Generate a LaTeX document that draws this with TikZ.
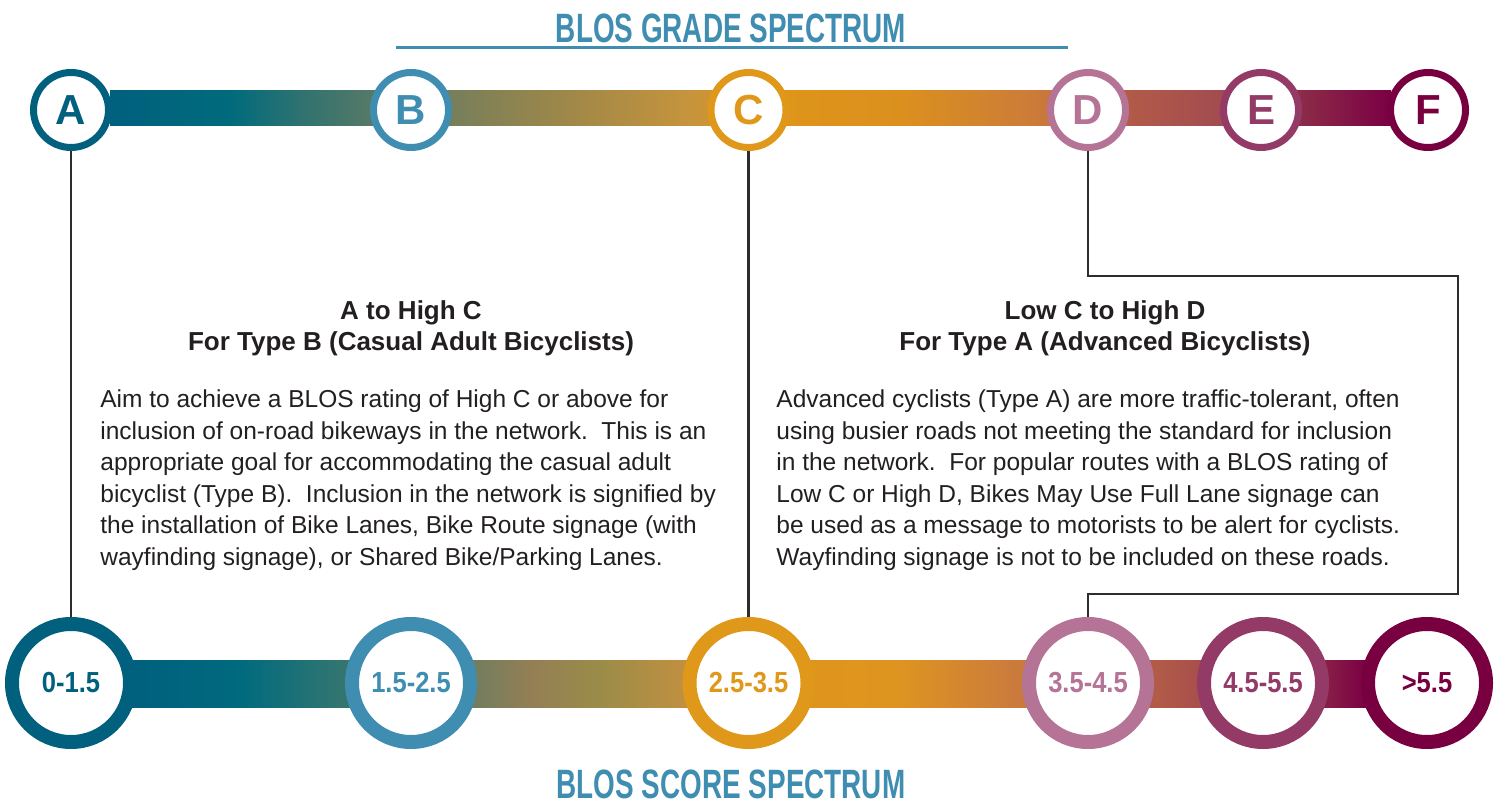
\documentclass[tikz,border=0pt]{standalone}
\usepackage{fontspec}
\setmainfont{Liberation Sans}
\newfontfamily\titlefont[FakeStretch=0.68]{Liberation Sans}
\newfontfamily\scorefont[FakeStretch=0.88]{Liberation Sans}
\definecolor{cA}{HTML}{02607F}
\definecolor{cB}{HTML}{3F8DB0}
\definecolor{cC}{HTML}{E0981A}
\definecolor{cD}{HTML}{B57495}
\definecolor{cE}{HTML}{933A67}
\definecolor{cF}{HTML}{780041}
\definecolor{ttl}{HTML}{3F8DB0}
\definecolor{txt}{HTML}{231F20}
\definecolor{lnk}{HTML}{2D2D2D}
% top bar stops
\definecolor{t0}{HTML}{00607E}\definecolor{t1}{HTML}{006B7C}\definecolor{t2}{HTML}{2F7270}
\definecolor{t3}{HTML}{5A7A66}\definecolor{t4}{HTML}{7E8058}\definecolor{t5}{HTML}{A08848}
\definecolor{t6}{HTML}{C6943C}\definecolor{t7}{HTML}{DF9618}\definecolor{t8}{HTML}{DB901E}
\definecolor{t9}{HTML}{CD7C38}\definecolor{t10}{HTML}{B25A48}\definecolor{t11}{HTML}{A24C50}
\definecolor{t12}{HTML}{8C2C48}\definecolor{t13}{HTML}{7A0044}
% bottom bar stops
\definecolor{b0}{HTML}{00607E}\definecolor{b1}{HTML}{006A7E}\definecolor{b2}{HTML}{2E7472}
\definecolor{b3}{HTML}{5E7C64}\definecolor{b4}{HTML}{947F55}\definecolor{b5}{HTML}{9A8C48}
\definecolor{b6}{HTML}{C49040}\definecolor{b7}{HTML}{E0961A}\definecolor{b8}{HTML}{DE9420}
\definecolor{b9}{HTML}{CB7C3C}\definecolor{b10}{HTML}{B05A48}\definecolor{b11}{HTML}{A64C4C}
\definecolor{b12}{HTML}{8E2A48}\definecolor{b13}{HTML}{7A0044}
\tikzset{
  grade/.style={circle, draw=#1, fill=white, line width=3.5pt, minimum size=37.5pt, inner sep=0pt,
    text=#1, font=\fontsize{21}{21}\selectfont\bfseries},
  score/.style={circle, draw=#1, fill=white, line width=7pt, minimum size=59pt, inner sep=0pt,
    text=#1, font=\scorefont\fontsize{14.5}{14.5}\selectfont\bfseries},
  spectitle/.style={text=ttl, font=\titlefont\fontsize{20.5}{20.5}\selectfont\bfseries, inner sep=0pt},
  head/.style={text=txt, font=\fontsize{13}{13}\selectfont\bfseries, inner sep=0pt, anchor=base},
  body/.style={text=txt, font=\fontsize{12.25}{12.25}\selectfont, inner sep=0pt, anchor=base west},
  link/.style={draw=lnk, line width=1.25pt},
}
\begin{document}
\begin{tikzpicture}[x=0.5pt, y=-0.5pt]
\useasboundingbox (0,0) rectangle (1502,806);
% titles
\node[spectitle, anchor=base] (gt) at (731,43) {BLOS GRADE SPECTRUM};
\draw[ttl, line width=1.5pt] (396,47.5) -- (1068,47.5);
\node[spectitle, anchor=base] (st) at (731,798) {BLOS SCORE SPECTRUM};
% top bar
\foreach \xa/\ca/\xb/\cb in {110/t0/230/t1, 230/t1/300/t2, 300/t2/380/t3, 380/t3/470/t4, 470/t4/570/t5,
  570/t5/690/t6, 690/t6/760/t7, 760/t7/900/t8, 900/t8/1030/t9, 1030/t9/1130/t10, 1130/t10/1220/t11,
  1220/t11/1300/t12, 1300/t12/1390/t13}
  \shade[left color=\ca, right color=\cb] (\xa,91) rectangle (\xb+1,126);
% bottom bar
\foreach \xa/\ca/\xb/\cb in {130/b0/240/b1, 240/b1/330/b2, 330/b2/440/b3, 440/b3/530/b4, 530/b4/600/b5,
  600/b5/690/b6, 690/b6/760/b7, 760/b7/900/b8, 900/b8/1010/b9, 1010/b9/1160/b10, 1160/b10/1210/b11,
  1210/b11/1310/b12, 1310/b12/1365/b13}
  \shade[left color=\ca, right color=\cb] (\xa,660) rectangle (\xb+1,707);
% grade circles
\node[grade=cA] (gA) at (71,110) {A};
\node[grade=cB] (gB) at (411,110) {B};
\node[grade=cC] (gC) at (748.5,110) {C};
\node[grade=cD] (gD) at (1088,110) {D};
\node[grade=cE] (gE) at (1261,110) {E};
\node[grade=cF] (gF) at (1428,110) {F};
% score circles
\node[score=cA] (sA) at (71,683) {0-1.5};
\node[score=cB] (sB) at (411,683) {1.5-2.5};
\node[score=cC] (sC) at (748.5,683) {2.5-3.5};
\node[score=cD] (sD) at (1088,683) {3.5-4.5};
\node[score=cE] (sE) at (1263,683) {4.5-5.5};
\node[score=cF] (sF) at (1427,683) {>5.5};
% connectors
\draw[link] (gA.south) -- (sA.north);
\draw[link] (gC.south) -- (sC.north);
\coordinate (dR1) at (1458,276);
\coordinate (dR2) at (1458,594);
\draw[link] (gD.south) |- (dR1) -- (dR2) -| (sD.north);
% left text
\node[head] (lh1) at (411,320) {A to High C};
\node[head] (lh2) at (411,351) {For Type B (Casual Adult Bicyclists)};
\foreach \t [count=\i] in {{Aim to achieve a BLOS rating of High C or above for},
  {inclusion of on-road bikeways in the network.\ \ This is an},
  {appropriate goal for accommodating the casual adult},
  {bicyclist (Type B).\ \ Inclusion in the network is signified by},
  {the installation of Bike Lanes, Bike Route signage (with},
  {wayfinding signage), or Shared Bike/Parking Lanes.}}
  \node[body] (lb\i) at (100,{408+31.4*(\i-1)}) {\t};
% right text
\node[head] (rh1) at (1105,320) {Low C to High D};
\node[head] (rh2) at (1105,351) {For Type A (Advanced Bicyclists)};
\foreach \t [count=\i] in {{Advanced cyclists (Type A) are more traffic-tolerant, often},
  {using busier roads not meeting the standard for inclusion},
  {in the network.\ \ For popular routes with a BLOS rating of},
  {Low C or High D, Bikes May Use Full Lane signage can},
  {be used as a message to motorists to be alert for cyclists.},
  {Wayfinding signage is not to be included on these roads.}}
  \node[body] (rb\i) at (776,{408+31.4*(\i-1)}) {\t};
\end{tikzpicture}
\end{document}
